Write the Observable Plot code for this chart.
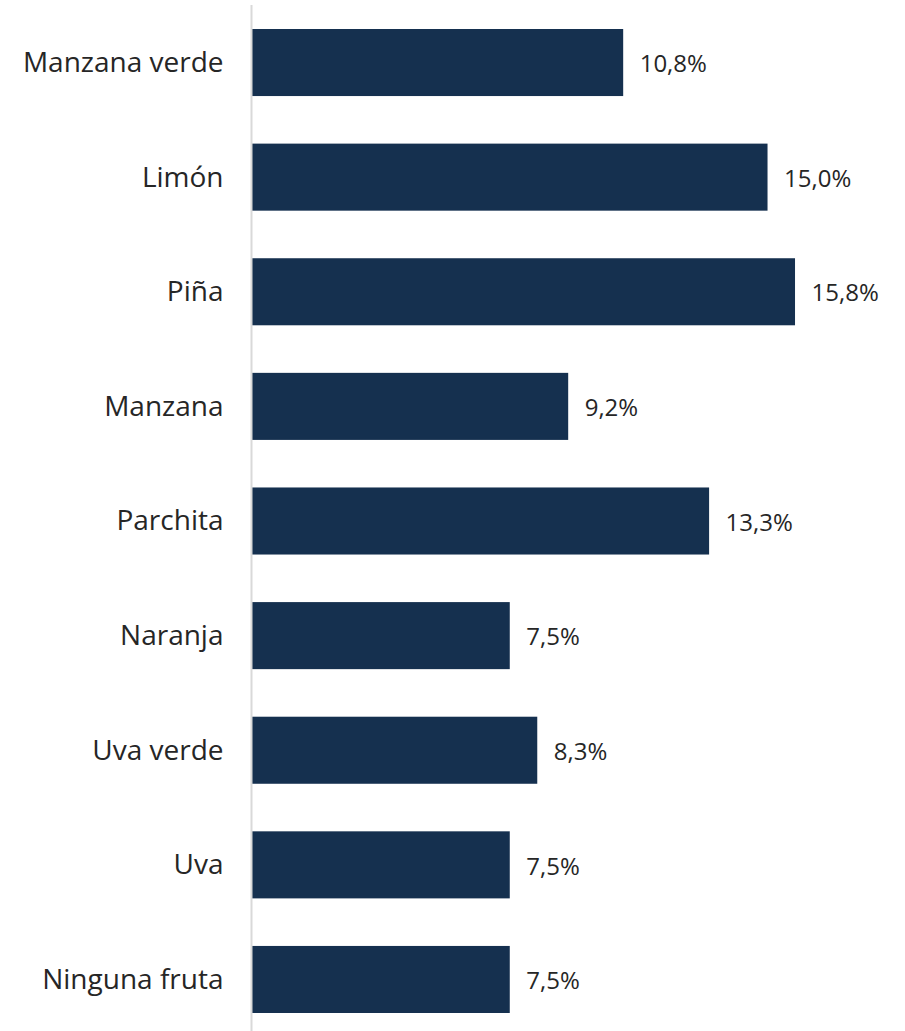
<!DOCTYPE html>
<html>
<head>
<meta charset="utf-8">
<script src="https://cdn.jsdelivr.net/npm/d3@7"></script>
<script src="https://cdn.jsdelivr.net/npm/@observablehq/plot@0.6"></script>
<style>
  html, body { margin: 0; padding: 0; background: #fff; }
  #chart svg { display: block; }
</style>
</head>
<body>
<div id="chart"></div>
<script>
const categories = ["Manzana verde", "Limón", "Piña", "Manzana", "Parchita", "Naranja", "Uva verde", "Uva", "Ninguna fruta"];
const values = [10.8, 15.0, 15.8, 9.2, 13.3, 7.5, 8.3, 7.5, 7.5];

const data = categories.map((c, i) => ({category: c, value: values[i]}));
const fmt = v => v.toFixed(1).replace(".", ",") + "%";

const chart = Plot.plot({
  width: 905,
  height: 1031,
  marginTop: 29,
  marginBottom: 18,
  marginLeft: 252,
  marginRight: 0,
  style: {fontFamily: "'Open Sans', sans-serif", background: "#fff", color: "#262626"},
  x: {domain: [0, 19], axis: null},
  y: {domain: categories, paddingInner: 0.415, paddingOuter: 0, round: false, axis: null},
  marks: [
    Plot.barX(data, {x: "value", y: "category", fill: "#15304f"}),
    Plot.ruleX([0], {stroke: "#d9d9d9", strokeWidth: 2, dx: -1, insetTop: -24, insetBottom: -18}),
    Plot.text(data, {x: 0, y: "category", text: "category", textAnchor: "end", dx: -29, fontSize: 28, fill: "#262626"}),
    Plot.text(data, {x: "value", y: "category", text: d => fmt(d.value), textAnchor: "start", dx: 16, dy: 1.5, fontSize: 24, fill: "#262626"})
  ]
});
document.getElementById("chart").appendChild(chart);
</script>
</body>
</html>
